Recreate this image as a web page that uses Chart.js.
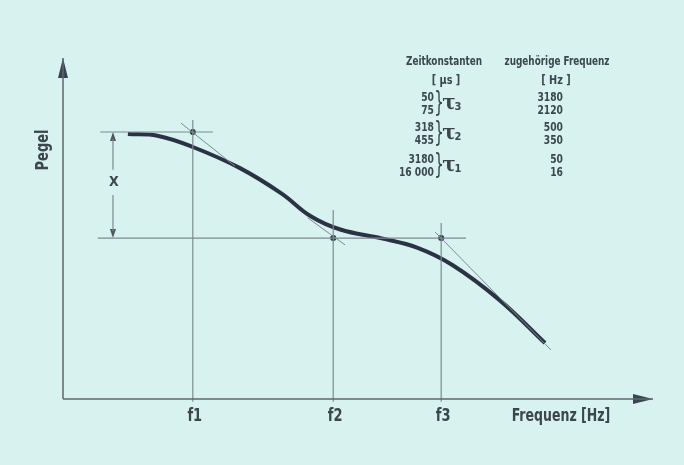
<!DOCTYPE html>
<html>
<head>
<meta charset="utf-8">
<script src="https://cdn.jsdelivr.net/npm/chart.js@4/dist/chart.umd.min.js"></script>
<style>
    html, body { margin: 0; padding: 0; background: #d7f2ef; }
    canvas { display: block; }
</style>
</head>
<body>
<canvas id="chart" width="684" height="465"></canvas>
<script>
// Pegelkurve (schematisch), x = log. Frequenz, y = Pegel
const curveX = [11.0, 16.0, 22.0, 30.0, 37.0, 42.0, 47.0, 54.0, 60.0, 66.0, 74.0, 81.7];
const curveY = [77.7, 77.2, 73.9, 67.7, 60.3, 53.6, 49.7, 47.1, 44.4, 39.3, 29.0, 16.4];

// Eckfrequenzen
const fLabels = ['f1', 'f2', 'f3'];
const fValues = [22.0, 45.8, 64.1];
const fTops = [81.8, 55.4, 51.6];

// Pegelwerte für Hilfslinien
const levelTop = 78.3;
const levelLow = 47.2;
const levelTopX = [6.3, 25.4];
const levelLowX = [5.9, 68.3];

// Tangenten
const tangentX = [[20.0, 29.15], [41.5, 47.8], [63.05, 82.7]];
const tangentY = [[80.9, 68.3], [53.1, 45.2], [49.0, 14.4]];

// Maßpfeil X
const dimX = 8.47;
const dimGap = [67.2, 59.8];

// Tabelle
const tableHead = ['Zeitkonstanten', 'zugehörige Frequenz'];
const tableUnits = ['[ µs ]', '[ Hz ]'];
const timeConsts = [['50', '75'], ['318', '455'], ['3180', '16 000']];
const tauIndex = ['3', '2', '1'];
const freqs = [['3180', '2120'], ['500', '350'], ['50', '16']];

const FONT = "'DejaVu Sans Condensed', 'Liberation Sans Narrow', 'Roboto', sans-serif";
const TEXT = '#3b4650';
const LINE = '#7d8b90';
const AXIS = '#5c686e';
const CURVE = '#2a3244';

function makeArrow(len, wid, color) {
    const c = document.createElement('canvas');
    c.width = wid;
    c.height = len * 2;
    const g = c.getContext('2d');
    g.fillStyle = color;
    g.beginPath();
    g.moveTo(wid / 2, len);
    g.lineTo(wid, len * 2);
    g.lineTo(0, len * 2);
    g.closePath();
    g.fill();
    return c;
}

const bigArrow = makeArrow(20, 10, '#3a4452');
const smallArrow = makeArrow(9, 6, '#4a5560');

function seg(xs, ys, color, width) {
    return {
        data: xs.map((x, i) => ({x: x, y: ys[i]})),
        showLine: true,
        borderColor: color,
        borderWidth: width,
        pointRadius: 0,
        fill: false
    };
}

// schmale Schrift (horizontal gestaucht)
function narrow(ctx, text, x, y, sx) {
    ctx.save();
    ctx.translate(x, y);
    ctx.scale(sx, 1);
    ctx.fillText(text, 0, 0);
    ctx.restore();
}

const datasets = [];
// Achsen
datasets.push(seg([0, 0], [0, 100], AXIS, 1.5));
datasets.push(seg([0, 100], [0, 0], AXIS, 1.5));
// Hilfslinien
datasets.push(seg(levelTopX, [levelTop, levelTop], LINE, 1.2));
datasets.push(seg(levelLowX, [levelLow, levelLow], LINE, 1.2));
fValues.forEach((f, i) => datasets.push(seg([f, f], [-0.8, fTops[i]], LINE, 1.2)));
tangentX.forEach((tx, i) => datasets.push(seg(tx, tangentY[i], LINE, 1)));
// Maßpfeil
datasets.push(seg([dimX, dimX], [levelTop - 2, dimGap[0]], LINE, 1.2));
datasets.push(seg([dimX, dimX], [dimGap[1], levelLow + 2], LINE, 1.2));
// Kurve
datasets.push({
    data: curveX.map((x, i) => ({x: x, y: curveY[i]})),
    showLine: true,
    borderColor: CURVE,
    borderWidth: 4,
    borderCapStyle: 'butt',
    tension: 0.4,
    pointRadius: 0,
    fill: false
});
// Schnittpunkte
datasets.push({
    data: [{x: fValues[0], y: levelTop}, {x: fValues[1], y: levelLow}, {x: fValues[2], y: levelLow}],
    pointRadius: 3,
    pointBackgroundColor: CURVE,
    pointBorderWidth: 0
});
// Pfeilspitzen
datasets.push({
    data: [{x: 0, y: 100}, {x: 100, y: 0}],
    pointStyle: bigArrow,
    rotation: [0, 90],
    pointRadius: 10
});
datasets.push({
    data: [{x: dimX, y: levelTop}, {x: dimX, y: levelLow}],
    pointStyle: smallArrow,
    rotation: [0, 180],
    pointRadius: 6
});

const labelPlugin = {
    id: 'labels',
    afterDatasetsDraw(chart) {
        const ctx = chart.ctx;
        const xs = chart.scales.x, ys = chart.scales.y;
        ctx.save();
        ctx.fillStyle = TEXT;
        ctx.textBaseline = 'middle';

        // f-Beschriftung
        ctx.font = 'bold 17px ' + FONT;
        ctx.textAlign = 'center';
        fLabels.forEach((l, i) => narrow(ctx, l, xs.getPixelForValue(fValues[i]) + 2, 417, 0.85));
        narrow(ctx, 'Frequenz [Hz]', 561, 417, 0.82);

        // Pegel
        ctx.save();
        ctx.translate(44, 150);
        ctx.rotate(-Math.PI / 2);
        narrow(ctx, 'Pegel', 0, 0, 0.85);
        ctx.restore();

        // X
        ctx.font = 'bold 14px ' + FONT;
        ctx.fillText('X', xs.getPixelForValue(dimX) + 1, ys.getPixelForValue((dimGap[0] + dimGap[1]) / 2));

        // Tabelle
        ctx.font = 'bold 12px ' + FONT;
        narrow(ctx, tableHead[0], 444, 62, 0.82);
        narrow(ctx, tableHead[1], 557, 62, 0.82);
        narrow(ctx, tableUnits[0], 446, 81, 0.9);
        narrow(ctx, tableUnits[1], 556, 81, 0.9);

        const rowY = [[98, 111], [128, 141], [160, 173]];
        timeConsts.forEach((pair, g) => {
            ctx.font = 'bold 12px ' + FONT;
            ctx.textAlign = 'right';
            narrow(ctx, pair[0], 434, rowY[g][0], 0.85);
            narrow(ctx, pair[1], 434, rowY[g][1], 0.85);
            narrow(ctx, freqs[g][0], 563, rowY[g][0], 0.85);
            narrow(ctx, freqs[g][1], 563, rowY[g][1], 0.85);
            const mid = (rowY[g][0] + rowY[g][1]) / 2;
            ctx.textAlign = 'center';
            ctx.font = '28px ' + FONT;
            narrow(ctx, '}', 439, mid, 0.6);
            ctx.font = 'bold 20px DejaVu Serif';
            ctx.fillText('τ', 449, mid - 1);
            ctx.font = 'bold 11px ' + FONT;
            ctx.fillText(tauIndex[g], 458, mid + 3);
        });
        ctx.restore();
    }
};

new Chart(document.getElementById('chart'), {
    type: 'scatter',
    data: { datasets: datasets },
    options: {
        responsive: false,
        animation: false,
        layout: { padding: { left: 63, right: 31, top: 58, bottom: 66 } },
        scales: {
            x: { type: 'linear', min: 0, max: 100, display: false },
            y: { type: 'linear', min: 0, max: 100, display: false }
        },
        plugins: {
            legend: { display: false },
            tooltip: { enabled: false }
        },
        clip: false
    },
    plugins: [labelPlugin]
});
</script>
</body>
</html>
